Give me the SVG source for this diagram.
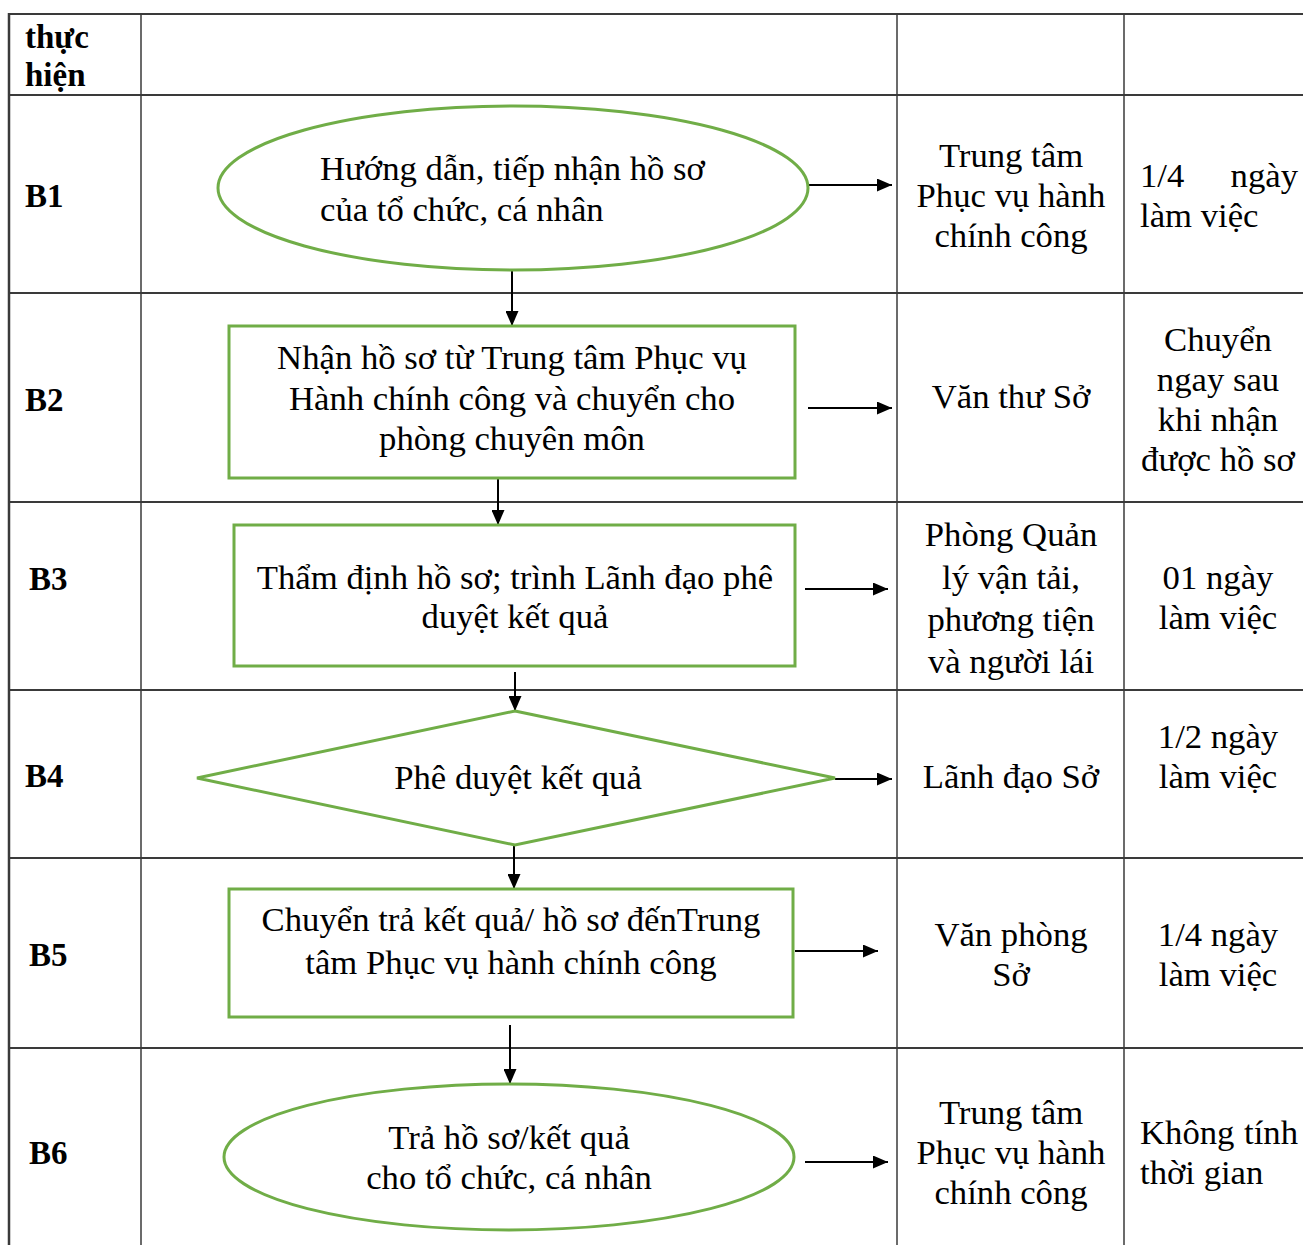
<svg xmlns="http://www.w3.org/2000/svg" width="1303" height="1245" viewBox="0 0 1303 1245">
<style>
.grid{stroke:#3a3a3a;stroke-width:2;fill:none}
.shape{fill:#fff;stroke:#70AD47;stroke-width:3}
.t{font-family:"Liberation Serif","Times New Roman",serif;font-size:34.7px;fill:#000}
.b{font-family:"Liberation Serif","Times New Roman",serif;font-size:33px;font-weight:bold;fill:#000}
.c{text-anchor:middle}
.conn{stroke:#000;stroke-width:2;fill:none;marker-end:url(#ah)}
</style>
<defs>
<marker id="ah" markerWidth="15" markerHeight="13" refX="15" refY="6.5" orient="auto" markerUnits="userSpaceOnUse" viewBox="0 0 15 13">
<path d="M0,0 L15,6.5 L0,13 Z" fill="#000"/>
</marker>
</defs>
<rect width="1303" height="1245" fill="#fff"/>
<g id="table">
<line class="grid" x1="9" y1="14" x2="1303" y2="14"/>
<line class="grid" x1="9" y1="95" x2="1303" y2="95"/>
<line class="grid" x1="9" y1="293" x2="1303" y2="293"/>
<line class="grid" x1="9" y1="502" x2="1303" y2="502"/>
<line class="grid" x1="9" y1="690" x2="1303" y2="690"/>
<line class="grid" x1="9" y1="858" x2="1303" y2="858"/>
<line class="grid" x1="9" y1="1048" x2="1303" y2="1048"/>
<line class="grid" x1="9" y1="13" x2="9" y2="1245" style="stroke-width:2.5"/>
<line class="grid" x1="141" y1="14" x2="141" y2="1245" style="stroke-width:1.5"/>
<line class="grid" x1="897" y1="14" x2="897" y2="1245" style="stroke-width:1.5"/>
<line class="grid" x1="1124" y1="14" x2="1124" y2="1245" style="stroke-width:1.5"/>
<text class="b" x="25" y="48">thực</text>
<text class="b" x="25" y="86">hiện</text>
<text class="b" x="25" y="207">B1</text>
<text class="b" x="25" y="411">B2</text>
<text class="b" x="29" y="590">B3</text>
<text class="b" x="25" y="787">B4</text>
<text class="b" x="29" y="966">B5</text>
<text class="b" x="29" y="1164">B6</text>
</g>
<g id="col-roles">
<text class="t c" x="1011" y="167">Trung tâm</text>
<text class="t c" x="1011" y="207">Phục vụ hành</text>
<text class="t c" x="1011" y="247">chính công</text>
<text class="t c" x="1011" y="408">Văn thư Sở</text>
<text class="t c" x="1011" y="546">Phòng Quản</text>
<text class="t c" x="1011" y="589">lý vận tải,</text>
<text class="t c" x="1011" y="631">phương tiện</text>
<text class="t c" x="1011" y="673">và người lái</text>
<text class="t c" x="1011" y="788">Lãnh đạo Sở</text>
<text class="t c" x="1011" y="946">Văn phòng</text>
<text class="t c" x="1011" y="986">Sở</text>
<text class="t c" x="1011" y="1124">Trung tâm</text>
<text class="t c" x="1011" y="1164">Phục vụ hành</text>
<text class="t c" x="1011" y="1204">chính công</text>
</g>
<g id="col-time">
<text class="t" x="1140" y="187">1/4</text>
<text class="t" x="1298" y="187" text-anchor="end">ngày</text>
<text class="t" x="1140" y="227">làm việc</text>
<text class="t c" x="1218" y="351">Chuyển</text>
<text class="t c" x="1218" y="391">ngay sau</text>
<text class="t c" x="1218" y="431">khi nhận</text>
<text class="t c" x="1218" y="471">được hồ sơ</text>
<text class="t c" x="1218" y="589">01 ngày</text>
<text class="t c" x="1218" y="629">làm việc</text>
<text class="t c" x="1218" y="748">1/2 ngày</text>
<text class="t c" x="1218" y="788">làm việc</text>
<text class="t c" x="1218" y="946">1/4 ngày</text>
<text class="t c" x="1218" y="986">làm việc</text>
<text class="t" x="1140" y="1144">Không</text>
<text class="t" x="1298" y="1144" text-anchor="end">tính</text>
<text class="t" x="1140" y="1184">thời gian</text>
</g>
<g id="connectors">
<line class="conn" x1="512" y1="270" x2="512" y2="326"/>
<line class="conn" x1="498" y1="478" x2="498" y2="525"/>
<line class="conn" x1="515" y1="672" x2="515" y2="711"/>
<line class="conn" x1="514" y1="845" x2="514" y2="889"/>
<line class="conn" x1="510" y1="1025" x2="510" y2="1084"/>
<line class="conn" x1="808" y1="185" x2="892" y2="185"/>
<line class="conn" x1="808" y1="408" x2="892" y2="408"/>
<line class="conn" x1="805" y1="589" x2="888" y2="589"/>
<line class="conn" x1="835" y1="779" x2="892" y2="779"/>
<line class="conn" x1="795" y1="951" x2="878" y2="951"/>
<line class="conn" x1="805" y1="1162" x2="888" y2="1162"/>
</g>
<g id="B1">
<ellipse class="shape" cx="513" cy="188" rx="295" ry="82"/>
<text class="t" x="320" y="180">Hướng dẫn, tiếp nhận hồ sơ</text>
<text class="t" x="320" y="221">của tổ chức, cá nhân</text>
</g>
<g id="B2">
<rect class="shape" x="229" y="326" width="566" height="152"/>
<text class="t c" x="512" y="369">Nhận hồ sơ từ Trung tâm Phục vụ</text>
<text class="t c" x="512" y="410">Hành chính công và chuyển cho</text>
<text class="t c" x="512" y="450">phòng chuyên môn</text>
</g>
<g id="B3">
<rect class="shape" x="234" y="525" width="561" height="141"/>
<text class="t c" x="515" y="589">Thẩm định hồ sơ; trình Lãnh đạo phê</text>
<text class="t c" x="515" y="628">duyệt kết quả</text>
</g>
<g id="B4">
<polygon class="shape" points="515,711 835,778 515,845 197,778"/>
<text class="t c" x="518" y="789">Phê duyệt kết quả</text>
</g>
<g id="B5">
<rect class="shape" x="229" y="889" width="564" height="128"/>
<text class="t c" x="511" y="931">Chuyển trả kết quả/ hồ sơ đếnTrung</text>
<text class="t c" x="511" y="974">tâm Phục vụ hành chính công</text>
</g>
<g id="B6">
<ellipse class="shape" cx="509" cy="1157" rx="285" ry="73"/>
<text class="t c" x="509" y="1149">Trả hồ sơ/kết quả</text>
<text class="t c" x="509" y="1189">cho tổ chức, cá nhân</text>
</g>
</svg>
